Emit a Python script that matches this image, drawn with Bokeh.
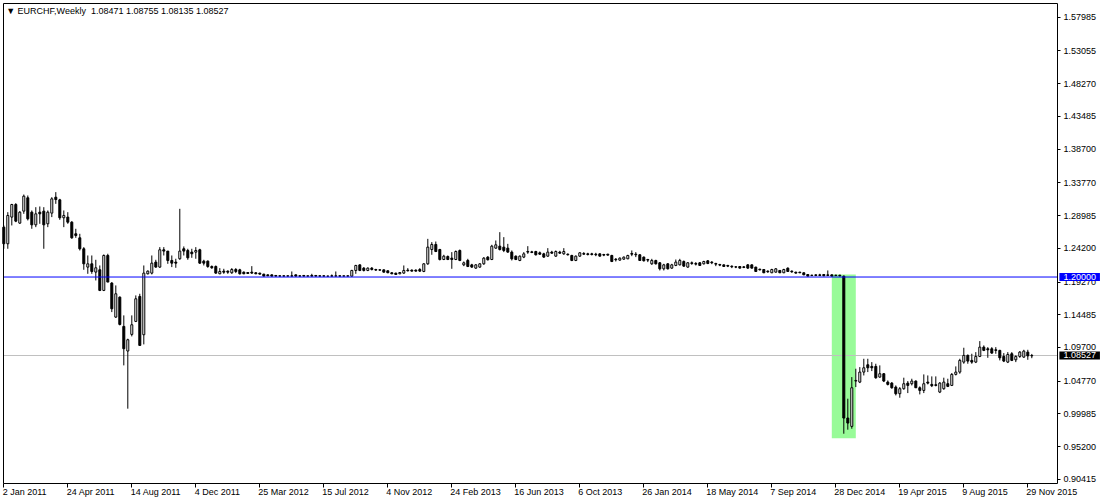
from bokeh.plotting import figure
from bokeh.models import FixedTicker, PrintfTickFormatter, Label, ColumnDataSource, LinearAxis
from bokeh.embed import file_html
from bokeh.resources import INLINE

# ---------------- data (weekly EURCHF candles) ----------------
opens = [
    1.2729, 1.2486, 1.2876, 1.3060, 1.2788, 1.2963, 1.3158, 1.2948, 1.2763, 1.2948,
    1.2963, 1.2778, 1.2934, 1.3167, 1.3128, 1.2866, 1.2876, 1.2802, 1.2632, 1.2573,
    1.2413, 1.2145, 1.2193, 1.2072, 1.2106, 1.1804, 1.2315, 1.1911, 1.1414, 1.1706,
    1.1278, 1.0918, 1.1161, 1.1351, 1.1716, 1.1156, 1.2047, 1.2057, 1.2218, 1.2145,
    1.2398, 1.2379, 1.2242, 1.2218, 1.2267, 1.2413, 1.2388, 1.2364, 1.2364, 1.2398,
    1.2232, 1.2232, 1.2154, 1.2154, 1.2047, 1.2086, 1.2086, 1.2062, 1.2110, 1.2105,
    1.2071, 1.2066, 1.2071, 1.2062, 1.2057, 1.2042, 1.2032, 1.2032, 1.2023, 1.2018,
    1.2018, 1.2013, 1.2018, 1.2032, 1.2018, 1.2023, 1.2013, 1.2023, 1.2023, 1.2018,
    1.2018, 1.2013, 1.2018, 1.2013, 1.2018, 1.2013, 1.2013, 1.2013, 1.2096, 1.2178,
    1.2130, 1.2096, 1.2130, 1.2110, 1.2105, 1.2105, 1.2091, 1.2062, 1.2057, 1.2047,
    1.2057, 1.2101, 1.2101, 1.2101, 1.2110, 1.2081, 1.2193, 1.2402, 1.2476, 1.2402,
    1.2256, 1.2300, 1.2276, 1.2256, 1.2388, 1.2178, 1.2242, 1.2178, 1.2130, 1.2145,
    1.2193, 1.2291, 1.2256, 1.2422, 1.2451, 1.2437, 1.2422, 1.2364, 1.2305, 1.2242,
    1.2291, 1.2373, 1.2368, 1.2373, 1.2354, 1.2339, 1.2305, 1.2364, 1.2305, 1.2364,
    1.2339, 1.2334, 1.2315, 1.2242, 1.2305, 1.2344, 1.2339, 1.2339, 1.2334, 1.2339,
    1.2329, 1.2334, 1.2315, 1.2261, 1.2247, 1.2261, 1.2266, 1.2344, 1.2334, 1.2325,
    1.2291, 1.2256, 1.2193, 1.2242, 1.2208, 1.2120, 1.2193, 1.2130, 1.2169, 1.2178,
    1.2227, 1.2145, 1.2208, 1.2198, 1.2208, 1.2193, 1.2237, 1.2218, 1.2198, 1.2183,
    1.2178, 1.2169, 1.2159, 1.2149, 1.2154, 1.2149, 1.2178, 1.2178, 1.2145, 1.2115,
    1.2110, 1.2086, 1.2062, 1.2071, 1.2096, 1.2062, 1.2130, 1.2086, 1.2071, 1.2071,
    1.2062, 1.2037, 1.2027, 1.2032, 1.2032, 1.2037, 1.2032, 1.2032, 1.2027, 1.2027,
    1.2012, 0.9938, 0.9816, 1.0479, 1.0464, 1.0610, 1.0717, 1.0693, 1.0693, 1.0537,
    1.0586, 1.0464, 1.0449, 1.0391, 1.0294, 1.0367, 1.0449, 1.0440, 1.0479, 1.0381,
    1.0342, 1.0464, 1.0430, 1.0425, 1.0318, 1.0367, 1.0440, 1.0415, 1.0576, 1.0610,
    1.0756, 1.0854, 1.0781, 1.0756, 1.0839, 1.0975, 1.0951, 1.0951, 1.0936, 1.0927,
    1.0839, 1.0756, 1.0878, 1.0790, 1.0839, 1.0829, 1.0902, 1.08471,
]
highs = [
    1.2754, 1.2948, 1.3070, 1.3080, 1.2963, 1.3206, 1.3192, 1.2973, 1.3021, 1.3031,
    1.3021, 1.2973, 1.3167, 1.3241, 1.3143, 1.2973, 1.2948, 1.2817, 1.2705, 1.2632,
    1.2437, 1.2315, 1.2315, 1.2252, 1.2169, 1.2330, 1.2340, 1.1926, 1.1877, 1.1716,
    1.1439, 1.1098, 1.1439, 1.1731, 1.1755, 1.2169, 1.2096, 1.2315, 1.2252, 1.2437,
    1.2437, 1.2379, 1.2315, 1.2267, 1.2997, 1.2447, 1.2413, 1.2413, 1.2437, 1.2413,
    1.2252, 1.2242, 1.2169, 1.2169, 1.2130, 1.2120, 1.2096, 1.2130, 1.2130, 1.2120,
    1.2081, 1.2071, 1.2159, 1.2071, 1.2062, 1.2047, 1.2037, 1.2037, 1.2027, 1.2023,
    1.2023, 1.2023, 1.2081, 1.2037, 1.2023, 1.2027, 1.2018, 1.2047, 1.2027, 1.2023,
    1.2023, 1.2018, 1.2037, 1.2081, 1.2023, 1.2018, 1.2023, 1.2105, 1.2178, 1.2183,
    1.2145, 1.2140, 1.2145, 1.2120, 1.2115, 1.2110, 1.2096, 1.2071, 1.2062, 1.2071,
    1.2169, 1.2130, 1.2110, 1.2110, 1.2130, 1.2203, 1.2558, 1.2510, 1.2519, 1.2412,
    1.2325, 1.2315, 1.2364, 1.2388, 1.2402, 1.2227, 1.2266, 1.2193, 1.2188, 1.2203,
    1.2291, 1.2305, 1.2471, 1.2534, 1.2656, 1.2583, 1.2485, 1.2388, 1.2315, 1.2315,
    1.2364, 1.2451, 1.2383, 1.2383, 1.2373, 1.2354, 1.2422, 1.2383, 1.2388, 1.2383,
    1.2422, 1.2344, 1.2325, 1.2315, 1.2364, 1.2364, 1.2354, 1.2354, 1.2354, 1.2344,
    1.2339, 1.2339, 1.2325, 1.2276, 1.2286, 1.2300, 1.2325, 1.2388, 1.2364, 1.2334,
    1.2300, 1.2266, 1.2266, 1.2252, 1.2218, 1.2193, 1.2203, 1.2193, 1.2256, 1.2266,
    1.2242, 1.2218, 1.2227, 1.2218, 1.2218, 1.2237, 1.2247, 1.2232, 1.2208, 1.2193,
    1.2183, 1.2178, 1.2169, 1.2159, 1.2159, 1.2159, 1.2188, 1.2183, 1.2149, 1.2120,
    1.2115, 1.2096, 1.2120, 1.2130, 1.2101, 1.2120, 1.2140, 1.2096, 1.2076, 1.2076,
    1.2066, 1.2042, 1.2032, 1.2037, 1.2047, 1.2042, 1.2096, 1.2037, 1.2032, 1.2032,
    1.2022, 1.0221, 1.0537, 1.0659, 1.0683, 1.0805, 1.0805, 1.0756, 1.0732, 1.0708,
    1.0596, 1.0488, 1.0464, 1.0415, 1.0391, 1.0528, 1.0479, 1.0513, 1.0488, 1.0401,
    1.0576, 1.0561, 1.0547, 1.0547, 1.0464, 1.0528, 1.0513, 1.0596, 1.0693, 1.0805,
    1.0966, 1.0868, 1.0878, 1.0902, 1.1063, 1.1000, 1.0975, 1.0975, 1.0975, 1.0936,
    1.0888, 1.0902, 1.0902, 1.0854, 1.0917, 1.0936, 1.0936, 1.08755,
]
lows = [
    1.2413, 1.2413, 1.2754, 1.2802, 1.2778, 1.2924, 1.2827, 1.2705, 1.2729, 1.2778,
    1.2413, 1.2729, 1.2876, 1.3070, 1.2836, 1.2729, 1.2778, 1.2559, 1.2573, 1.2388,
    1.2106, 1.2047, 1.2047, 1.1950, 1.1794, 1.1794, 1.1926, 1.1487, 1.1404, 1.1293,
    1.0708, 1.0075, 1.1132, 1.1341, 1.1000, 1.1015, 1.2038, 1.2038, 1.2135, 1.2135,
    1.2315, 1.2193, 1.2145, 1.2135, 1.2252, 1.2315, 1.2252, 1.2281, 1.2267, 1.2193,
    1.2169, 1.2135, 1.2120, 1.2047, 1.2042, 1.2047, 1.2047, 1.2047, 1.2057, 1.2037,
    1.2042, 1.2047, 1.2047, 1.2042, 1.2037, 1.2013, 1.2013, 1.2008, 1.2008, 1.2008,
    1.2008, 1.2008, 1.2008, 1.2008, 1.2008, 1.2008, 1.2008, 1.2008, 1.2008, 1.2008,
    1.2008, 1.2008, 1.2008, 1.2008, 1.2008, 1.2008, 1.2008, 1.2008, 1.2047, 1.2086,
    1.2081, 1.2086, 1.2096, 1.2091, 1.2091, 1.2066, 1.2057, 1.2042, 1.2032, 1.2042,
    1.2047, 1.2081, 1.2081, 1.2081, 1.2076, 1.2071, 1.2178, 1.2325, 1.2364, 1.2242,
    1.2247, 1.2247, 1.2120, 1.2247, 1.2232, 1.2159, 1.2145, 1.2135, 1.2120, 1.2135,
    1.2178, 1.2242, 1.2247, 1.2412, 1.2388, 1.2364, 1.2354, 1.2242, 1.2247, 1.2232,
    1.2276, 1.2339, 1.2349, 1.2315, 1.2325, 1.2281, 1.2295, 1.2339, 1.2295, 1.2339,
    1.2325, 1.2315, 1.2232, 1.2232, 1.2295, 1.2325, 1.2315, 1.2315, 1.2305, 1.2300,
    1.2305, 1.2315, 1.2218, 1.2227, 1.2237, 1.2252, 1.2261, 1.2305, 1.2291, 1.2237,
    1.2227, 1.2218, 1.2178, 1.2183, 1.2096, 1.2096, 1.2110, 1.2120, 1.2159, 1.2169,
    1.2149, 1.2135, 1.2178, 1.2169, 1.2164, 1.2183, 1.2188, 1.2188, 1.2159, 1.2159,
    1.2149, 1.2145, 1.2130, 1.2130, 1.2125, 1.2130, 1.2120, 1.2125, 1.2076, 1.2096,
    1.2057, 1.2062, 1.2057, 1.2066, 1.2057, 1.2057, 1.2076, 1.2062, 1.2052, 1.2057,
    1.2027, 1.2013, 1.2013, 1.2013, 1.2013, 1.2013, 1.2013, 1.2013, 1.2013, 1.2008,
    0.9709, 0.9768, 0.9782, 1.0391, 1.0449, 1.0561, 1.0610, 1.0625, 1.0513, 1.0527,
    1.0464, 1.0415, 1.0367, 1.0269, 1.0235, 1.0352, 1.0303, 1.0415, 1.0377, 1.0284,
    1.0303, 1.0430, 1.0391, 1.0401, 1.0303, 1.0352, 1.0391, 1.0406, 1.0561, 1.0586,
    1.0732, 1.0732, 1.0732, 1.0742, 1.0829, 1.0917, 1.0819, 1.0878, 1.0878, 1.0781,
    1.0756, 1.0742, 1.0771, 1.0756, 1.0819, 1.0819, 1.0790, 1.08135,
]
closes = [
    1.2486, 1.2900, 1.3060, 1.2817, 1.2948, 1.3182, 1.2851, 1.2763, 1.2924, 1.2924,
    1.2763, 1.2948, 1.3143, 1.3133, 1.2866, 1.2900, 1.2802, 1.2573, 1.2607, 1.2413,
    1.2193, 1.2193, 1.2081, 1.2135, 1.1804, 1.2315, 1.1926, 1.1536, 1.1755, 1.1307,
    1.0952, 1.1083, 1.1302, 1.1682, 1.1000, 1.2057, 1.2086, 1.2203, 1.2145, 1.2398,
    1.2379, 1.2242, 1.2203, 1.2203, 1.2379, 1.2379, 1.2281, 1.2340, 1.2388, 1.2203,
    1.2203, 1.2154, 1.2135, 1.2057, 1.2081, 1.2071, 1.2071, 1.2110, 1.2081, 1.2047,
    1.2047, 1.2052, 1.2057, 1.2047, 1.2042, 1.2013, 1.2018, 1.2013, 1.2013, 1.2013,
    1.2013, 1.2018, 1.2013, 1.2013, 1.2013, 1.2013, 1.2018, 1.2013, 1.2013, 1.2013,
    1.2013, 1.2013, 1.2013, 1.2018, 1.2013, 1.2018, 1.2018, 1.2096, 1.2169, 1.2096,
    1.2096, 1.2130, 1.2110, 1.2101, 1.2101, 1.2071, 1.2062, 1.2047, 1.2037, 1.2066,
    1.2096, 1.2091, 1.2086, 1.2086, 1.2086, 1.2193, 1.2437, 1.2476, 1.2373, 1.2256,
    1.2305, 1.2256, 1.2256, 1.2373, 1.2242, 1.2208, 1.2154, 1.2145, 1.2178, 1.2193,
    1.2276, 1.2252, 1.2451, 1.2471, 1.2402, 1.2388, 1.2364, 1.2266, 1.2256, 1.2305,
    1.2339, 1.2364, 1.2359, 1.2325, 1.2334, 1.2291, 1.2364, 1.2349, 1.2373, 1.2349,
    1.2373, 1.2325, 1.2242, 1.2305, 1.2354, 1.2334, 1.2329, 1.2329, 1.2325, 1.2305,
    1.2320, 1.2320, 1.2227, 1.2252, 1.2276, 1.2291, 1.2315, 1.2334, 1.2325, 1.2242,
    1.2237, 1.2247, 1.2242, 1.2193, 1.2120, 1.2178, 1.2120, 1.2178, 1.2218, 1.2242,
    1.2159, 1.2208, 1.2198, 1.2188, 1.2169, 1.2227, 1.2198, 1.2208, 1.2188, 1.2174,
    1.2154, 1.2159, 1.2149, 1.2145, 1.2130, 1.2140, 1.2130, 1.2130, 1.2081, 1.2105,
    1.2062, 1.2076, 1.2110, 1.2120, 1.2062, 1.2110, 1.2081, 1.2076, 1.2057, 1.2062,
    1.2032, 1.2013, 1.2023, 1.2023, 1.2023, 1.2018, 1.2023, 1.2013, 1.2023, 1.2018,
    0.9938, 0.9865, 1.0381, 1.0488, 1.0610, 1.0673, 1.0673, 1.0673, 1.0527, 1.0586,
    1.0479, 1.0430, 1.0381, 1.0294, 1.0367, 1.0440, 1.0415, 1.0479, 1.0381, 1.0342,
    1.0440, 1.0449, 1.0411, 1.0415, 1.0449, 1.0464, 1.0401, 1.0576, 1.0610, 1.0781,
    1.0854, 1.0771, 1.0756, 1.0839, 1.0975, 1.0927, 1.0936, 1.0888, 1.0927, 1.0819,
    1.0771, 1.0868, 1.0781, 1.0839, 1.0902, 1.0917, 1.0847, 1.08527,
]

date_labels = [
    "2 Jan 2011", "24 Apr 2011", "14 Aug 2011", "4 Dec 2011", "25 Mar 2012",
    "15 Jul 2012", "4 Nov 2012", "24 Feb 2013", "16 Jun 2013", "6 Oct 2013",
    "26 Jan 2014", "18 May 2014", "7 Sep 2014", "28 Dec 2014", "19 Apr 2015",
    "9 Aug 2015", "29 Nov 2015",
]
label_every = 16
price_ticks = [0.90415, 0.95200, 0.99985, 1.04770, 1.09700, 1.14485, 1.19270,
               1.24200, 1.28985, 1.33770, 1.38700, 1.43485, 1.48270, 1.53055, 1.57985]
title_text = "EURCHF,Weekly\u00a0 1.08471 1.08755 1.08135 1.08527"
floor_price = 1.20000
last_price = 1.08527
zone_bars = [207, 213]
zone_prices = [0.9644, 1.2037]

# ---------------- layout constants ----------------
FONT = "Liberation Sans"
FS = 9  # px
W, H = 1100, 500
n = len(opens)
x_lo, x_border = -0.15, 263.4          # chart area (left border / right border)
y_lo, y_hi = 0.8986, 1.5999            # chart area (bottom / top border)
x_start, x_end = -0.825, 274.175       # whole frame incl. price-scale area
y_start, y_end = 0.87327, 1.60427      # whole frame incl. date-scale area
px_per_bar = W / (x_end - x_start)

# Arial/Liberation Sans advance widths (per 1000 em) to left-align date labels at their ticks
CW = {" ": 278, "A": 667, "D": 722, "F": 611, "J": 500, "M": 833, "N": 722, "O": 778,
      "S": 667, "a": 556, "b": 556, "c": 500, "e": 556, "g": 556, "l": 222, "n": 556,
      "o": 556, "p": 556, "r": 333, "t": 278, "u": 556, "v": 500, "y": 500}
def text_w(s):
    return sum(CW.get(ch, 556) for ch in s) * FS / 1000.0

src = ColumnDataSource(dict(
    x=list(range(n)),
    o=opens, h=highs, l=lows, c=closes,
    top=[max(o, c) for o, c in zip(opens, closes)],
    bottom=[min(o, c) for o, c in zip(opens, closes)],
    fill=["white" if c >= o else "black" for o, c in zip(opens, closes)],
))

p = figure(width=W, height=H, x_range=(x_start, x_end), y_range=(y_start, y_end),
           y_axis_location="right", output_backend="svg", toolbar_location=None,
           min_border_left=0, min_border_top=0, min_border_right=0, min_border_bottom=0,
           background_fill_color="white", border_fill_color="white",
           outline_line_color=None)
p.grid.visible = False

p.quad(left=zone_bars[0], right=zone_bars[1], bottom=zone_prices[0], top=zone_prices[1],
       fill_color="#98FB98", line_color=None)

# bid line (silver)
p.segment(x0=[x_lo], x1=[x_border], y0=[last_price], y1=[last_price],
          line_color="#C0C0C0", line_width=1)

p.segment(x0="x", y0="l", x1="x", y1="h", source=src, line_color="black", line_width=1)
p.vbar(x="x", width=0.5, top="top", bottom="bottom", source=src,
       fill_color="fill", line_color="black", line_width=1)

# horizontal line at 1.20
p.segment(x0=[x_lo], x1=[x_border], y0=[floor_price], y1=[floor_price],
          line_color="#0000FF", line_width=1)

def style_axis(ax):
    ax.major_label_text_font = FONT
    ax.major_label_text_font_size = "%dpx" % FS
    ax.major_label_text_color = "black"
    ax.minor_tick_out = 0
    ax.minor_tick_in = 0
    ax.major_tick_in = 0
    ax.axis_line_color = "black"
    ax.major_tick_line_color = "black"

# price scale (right border of the chart)
yax = p.yaxis[0]
yax.fixed_location = x_border
yax.bounds = (y_lo, y_hi)
yax.ticker = FixedTicker(ticks=price_ticks)
yax.formatter = PrintfTickFormatter(format="%.5f")
style_axis(yax)
yax.major_tick_out = 3
yax.major_label_standoff = 3

# bottom border with date ticks
xax = p.xaxis[0]
xax.fixed_location = y_lo
xax.bounds = (x_lo, x_border)
tick_pos = list(range(0, n, label_every))
xax.ticker = FixedTicker(ticks=tick_pos)
xax.major_label_overrides = {t: "" for t in tick_pos}
style_axis(xax)
xax.major_tick_out = 4

# date labels, left-aligned at their ticks
lab_pos = [t + (text_w(s) / 2.0 - 1.5) / px_per_bar for t, s in zip(tick_pos, date_labels)]
dax = LinearAxis(fixed_location=y_lo, ticker=FixedTicker(ticks=lab_pos),
                 major_label_overrides={v: s for v, s in zip(lab_pos, date_labels)})
style_axis(dax)
dax.axis_line_color = None
dax.major_tick_line_color = None
dax.major_tick_out = 0
dax.major_label_standoff = 4
p.add_layout(dax, "below")

# left and top borders
lax = LinearAxis(fixed_location=x_lo, bounds=(y_lo, y_hi), ticker=FixedTicker(ticks=[]),
                 axis_line_color="black", major_tick_line_color=None, minor_tick_line_color=None,
                 major_label_text_font_size="0px")
p.add_layout(lax, "left")
tax = LinearAxis(fixed_location=y_hi, bounds=(x_lo, x_border), ticker=FixedTicker(ticks=[]),
                 axis_line_color="black", major_tick_line_color=None, minor_tick_line_color=None,
                 major_label_text_font_size="0px")
p.add_layout(tax, "above")

# title
p.add_layout(Label(x=x_lo, y=y_hi, x_offset=3, y_offset=-3, text="\u25BC " + title_text,
                   text_font=FONT, text_font_size="%dpx" % FS, text_color="black",
                   text_baseline="top", text_align="left"))

# price boxes on the scale
p.add_layout(Label(x=x_border, y=floor_price, x_offset=2, text="%.5f" % floor_price,
                   text_font=FONT, text_font_size="%dpx" % FS, text_color="white",
                   text_baseline="middle", text_align="left",
                   background_fill_color="#0000FF", padding=(4, 1)))
p.add_layout(Label(x=x_border, y=last_price, x_offset=2, text="%.5f" % last_price,
                   text_font=FONT, text_font_size="%dpx" % FS, text_color="white",
                   text_baseline="middle", text_align="left",
                   background_fill_color="black", padding=(4, 1)))

open("out.html", "w").write(file_html(p, INLINE))
